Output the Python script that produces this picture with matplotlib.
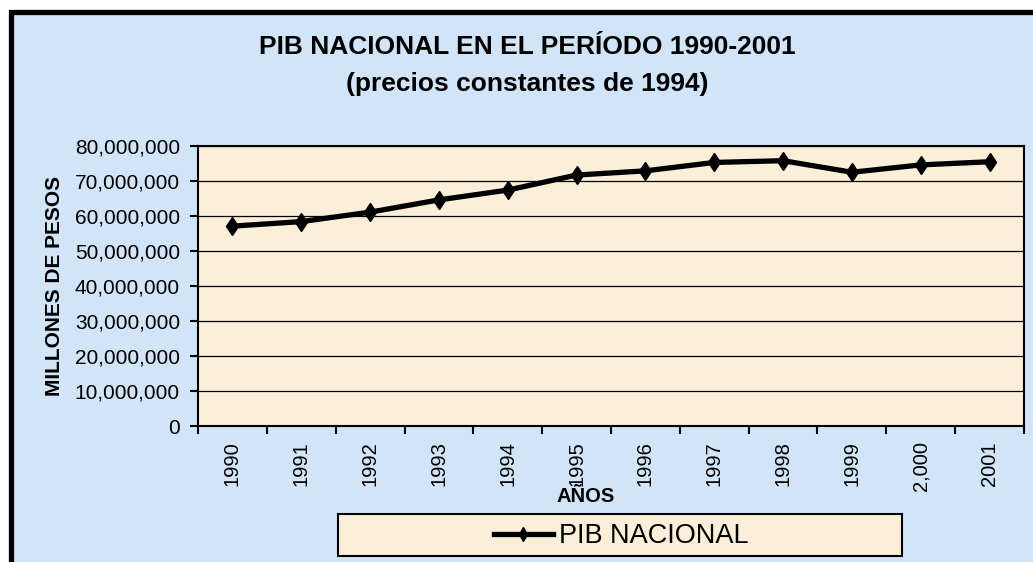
import matplotlib
matplotlib.use('Agg')
import matplotlib.pyplot as plt
from matplotlib.patches import Rectangle
from matplotlib.ticker import FuncFormatter

plt.rcParams['font.family'] = ['Liberation Sans', 'DejaVu Sans']

# datos (millones de pesos, precios constantes de 1994)
anios = ['1990', '1991', '1992', '1993', '1994', '1995',
         '1996', '1997', '1998', '1999', '2,000', '2001']
pib = [57100000, 58400000, 61100000, 64600000, 67400000, 71700000,
       72900000, 75300000, 75800000, 72500000, 74600000, 75500000]

W, H = 1033, 562
fig = plt.figure(figsize=(W / 100, H / 100), dpi=100, facecolor='white')

def fx(px):
    return px / W

def fy(py):
    return 1 - py / H

# fondo azul con marco negro (solo se ve arriba y a la izquierda)
fig.patches.append(Rectangle((fx(10.5), fy(H + 20)), 1.2, fy(11.5) - fy(H + 20),
                             transform=fig.transFigure, facecolor='#d2e4f8',
                             edgecolor='black', linewidth=3.8, zorder=-5))

ax = fig.add_axes([fx(198), fy(426), fx(1024) - fx(198), fy(146) - fy(426)])
ax.set_facecolor('#fbefd9')

x = list(range(len(anios)))
ax.plot(x, pib, color='black', linewidth=3.8, marker='d', markersize=9.5,
        label='PIB NACIONAL', zorder=3)

ax.set_xlim(-0.5, len(anios) - 0.5)
ax.set_ylim(0, 80000000)
ax.set_yticks(range(0, 80000001, 10000000))
ax.yaxis.set_major_formatter(FuncFormatter(lambda v, p: '{:,.0f}'.format(v)))
ax.grid(axis='y', color='black', linewidth=0.9)
ax.set_axisbelow(True)

# ticks en los limites de categoria, etiquetas al centro
ax.set_xticks([i - 0.5 for i in range(len(anios) + 1)])
ax.set_xticklabels([])
ax.set_xticks(x, minor=True)
ax.set_xticklabels(anios, minor=True, rotation=90, fontsize=14.5)
ax.tick_params(axis='x', which='major', direction='out', length=6, width=1.5)
ax.tick_params(axis='x', which='minor', length=0, pad=11)
ax.tick_params(axis='y', direction='out', length=6, width=1.5, labelsize=15, pad=7)
for s in ax.spines.values():
    s.set_linewidth(1.5)

fig.text(fx(527), fy(47), 'PIB NACIONAL EN EL PERÍODO 1990-2001', ha='center', va='center',
         fontsize=19, fontweight='bold')
fig.text(fx(527), fy(84), '(precios constantes de 1994)', ha='center', va='center',
         fontsize=19, fontweight='bold')
fig.text(fx(55), fy(286), 'MILLONES DE PESOS', rotation=90, ha='center', va='center',
         fontsize=15, fontweight='bold')
fig.text(fx(586), fy(497), 'AÑOS', ha='center', va='center', fontsize=14.5, fontweight='bold')

# leyenda en caja crema
fig.patches.append(Rectangle((fx(338), fy(556)), fx(902) - fx(338), fy(514) - fy(556),
                             transform=fig.transFigure, facecolor='#fbefd9',
                             edgecolor='black', linewidth=1.5, zorder=1))
leg = fig.legend(loc='center', bbox_to_anchor=(fx(621), fy(536)), frameon=False,
                 fontsize=19.5, handlelength=2.2, handletextpad=0.2, markerscale=0.7)

fig.savefig('out.png', dpi=100, facecolor=fig.get_facecolor())
